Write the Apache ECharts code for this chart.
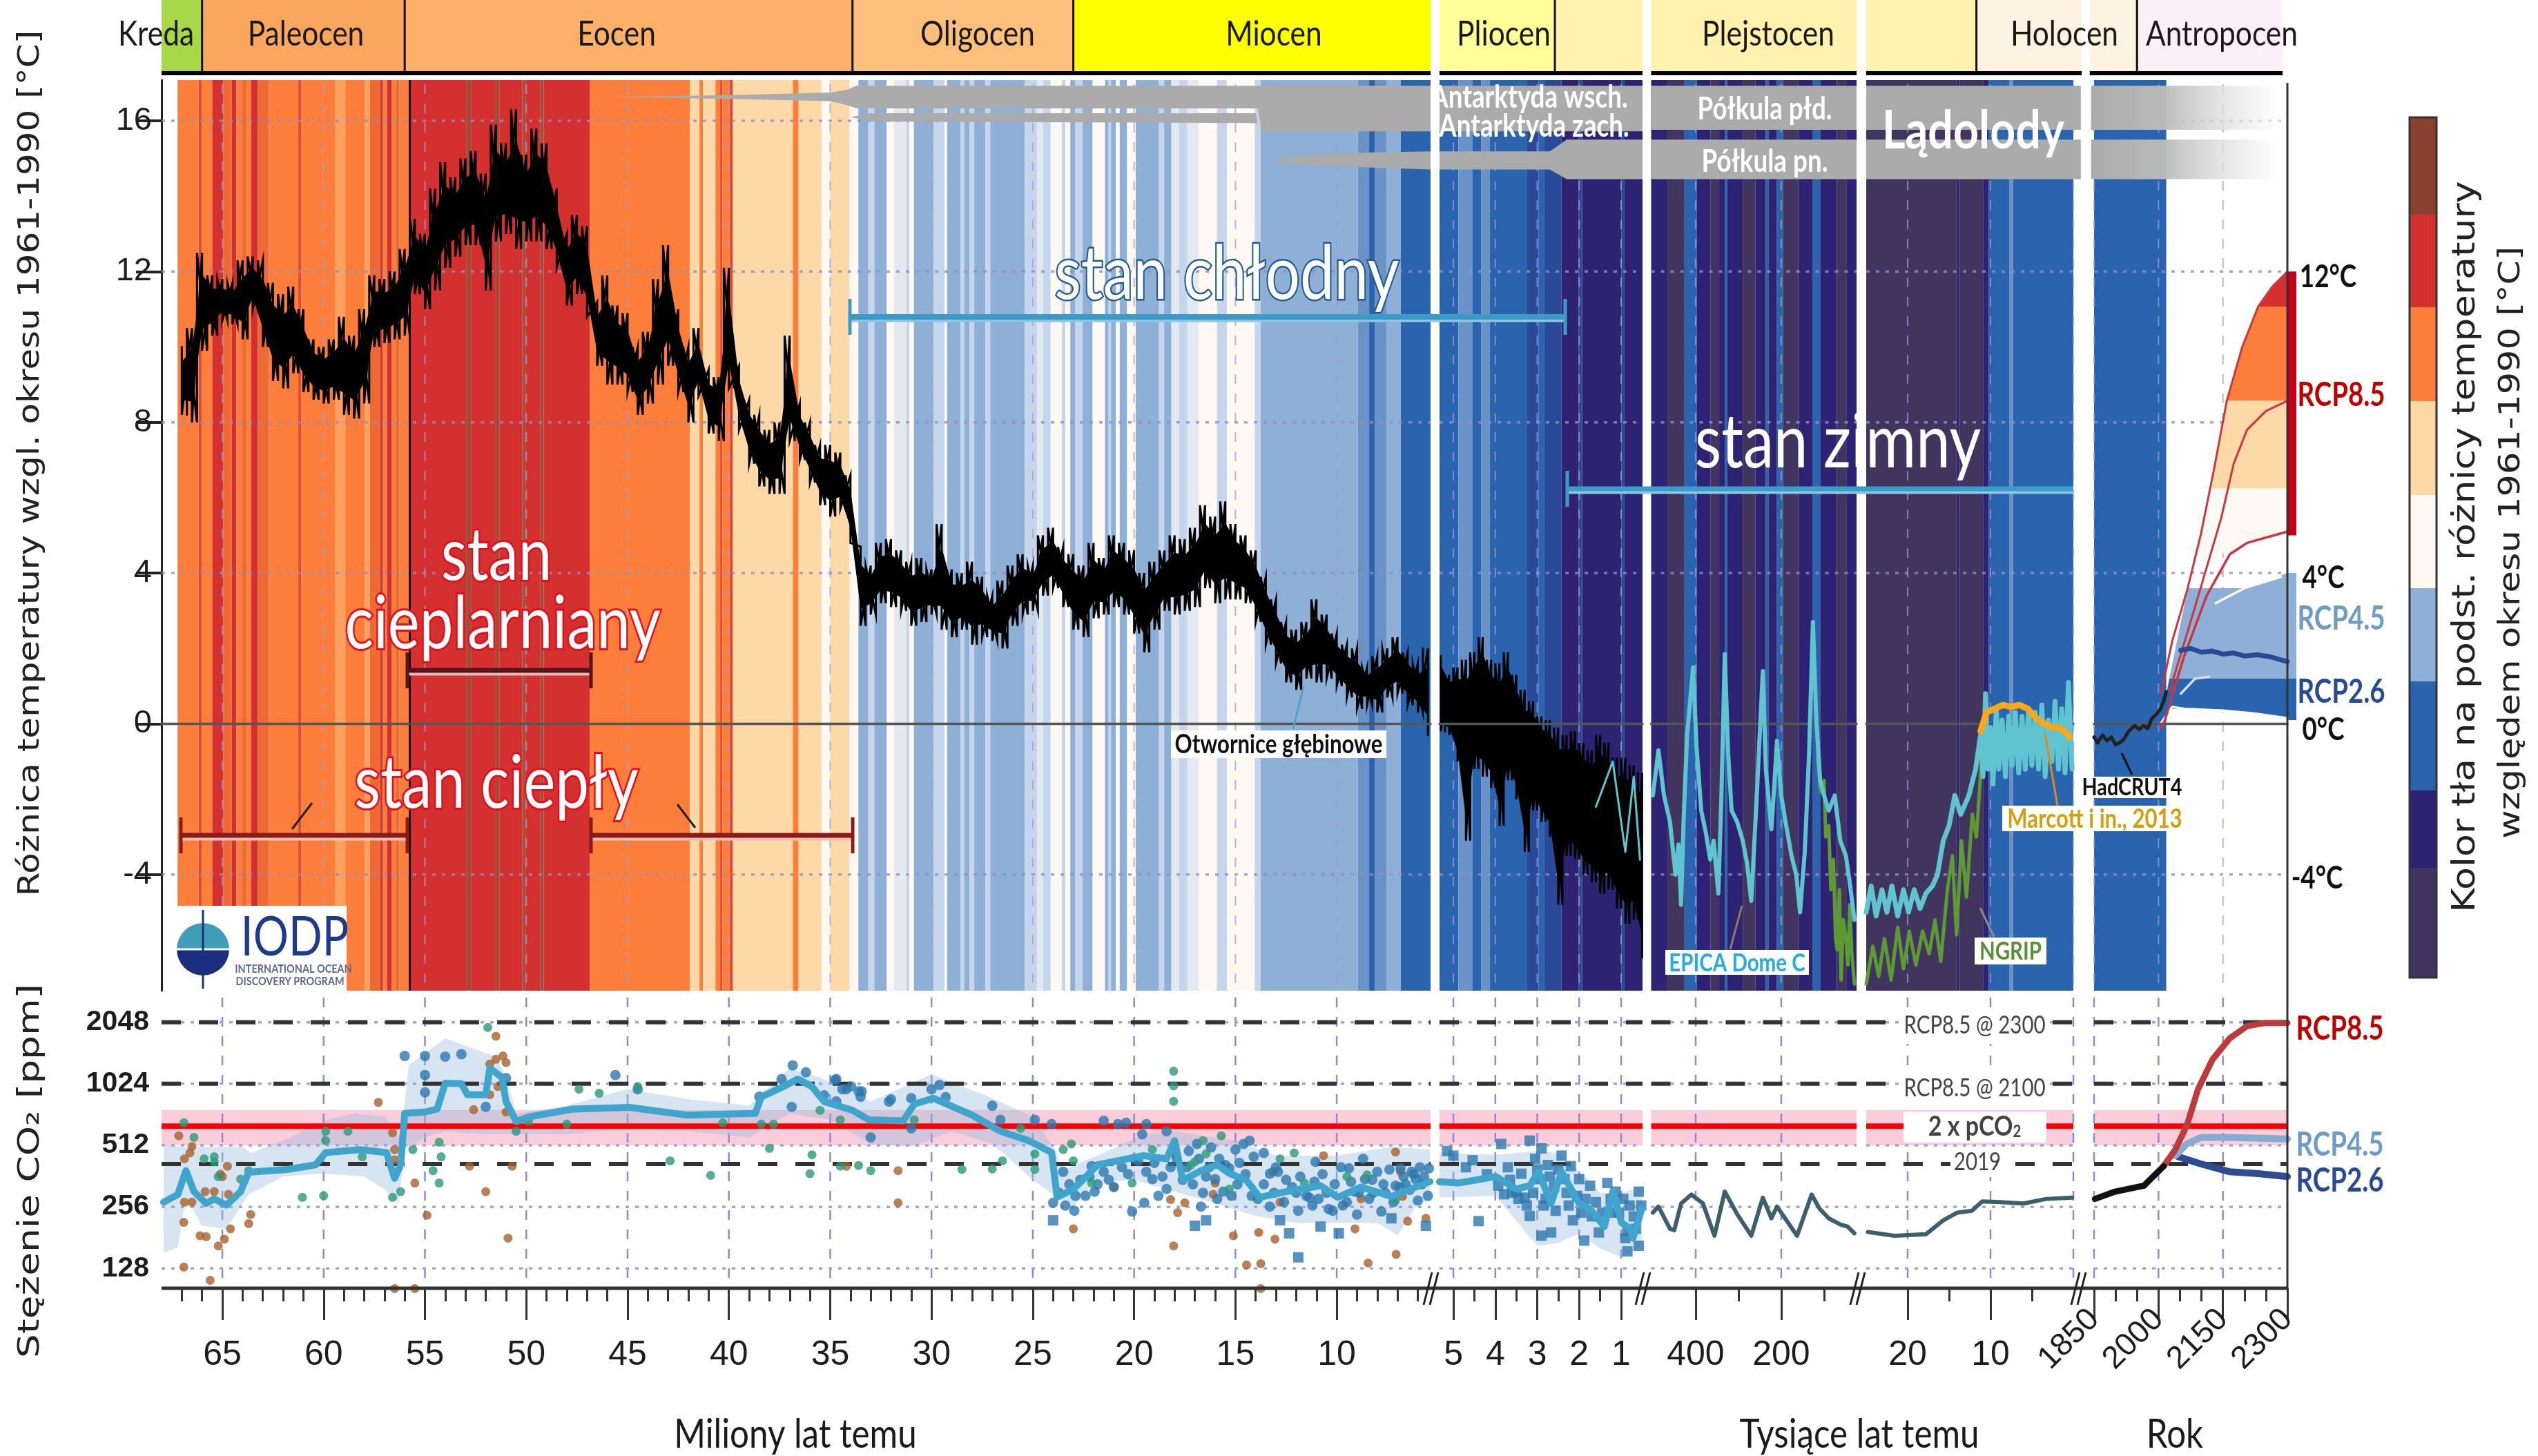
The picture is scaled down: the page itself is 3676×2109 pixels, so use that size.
<!DOCTYPE html>
<html><head><meta charset="utf-8"><style>html,body{margin:0;background:#fff}#c{width:3676px;height:2109px}</style>
<script src="https://cdn.jsdelivr.net/npm/echarts@6/dist/echarts.min.js"></script></head><body><div id="c"></div>
<script>
// ---- colour classes
const S=0,I=1,B=2,L=3,W=4,P=5,O=6,R=7,Br=8,Pl=9,M=10,D=11,Rm=12,VP=13,O2=14,LO=15,LBr=16;
const classColors=['#41345E','#2E2272','#2B64AE','#8FB0D6','#FFF8F3','#FDD9A8','#FD7E3B','#D53030','#A54C38','#C5D6EC','#6A92C6','#2A4A98','#E04A2F','#E3E9F0','#EE6A35','#FDA060','#8B3F2F'];
// ---- background stripes: [start, class] (x in Ma, ka, year)
const stripesA=[[67.21,O],[66.17,Rm],[66.01,O],[65.5,R],[64.96,O2],[64.53,R],[64.31,O],[64.04,O2],[63.8,O],[63.58,R],[63.25,O2],[62.7,O],[61.25,Rm],[61.1,O],[59.42,LO],[58.93,O],[57.96,LO],[57.72,O2],[57.21,R],[57.09,O],[56.87,R],[56.65,O],[56.44,O2],[56.26,O],[55.74,R],[52.97,Br],[52.73,R],[51.51,Br],[51.33,R],[50.2,Br],[50.05,R],[49.32,Br],[49.14,R],[46.87,O],[41.93,P],[41.45,O],[41.28,P],[40.66,O],[40.43,Rm],[40.32,O],[39.95,Rm],[39.8,P],[36.84,O],[36.56,P],[35.43,W],[35.01,P],[34.04,W],[33.61,L],[33.12,Pl],[32.82,L],[32.21,W],[31.85,VP],[31.24,Pl],[31.09,W],[30.87,L],[29.9,Pl],[29.35,W],[29.23,L],[28.56,Pl],[28.38,L],[28.13,Pl],[27.89,L],[27.34,Pl],[27.1,L],[25.4,Pl],[24.79,VP],[24.49,Pl],[24.12,W],[23.57,Pl],[23.39,W],[23.15,L],[22.9,Pl],[22.54,L],[22.05,W],[21.44,L],[21.26,Pl],[21.14,L],[20.9,W],[20.71,L],[20.35,W],[19.92,L],[18.77,Pl],[18.52,L],[18.16,VP],[17.79,Pl],[17.37,VP],[16.82,W],[15.91,Pl],[15.42,W],[14.05,Pl],[13.76,L],[8.96,M],[8.4,B],[8.11,M],[7.55,L],[6.84,B]];
const stripesB=[[5.33,B],[4.88,M],[4.54,B],[4.34,M],[4.13,B],[3.24,D],[2.97,B],[2.83,D],[2.42,I],[2.01,D],[1.93,I],[0.99,D],[0.92,I]];
const stripesC=[[504,I],[466,S],[426,B],[397,I],[365,S],[345,I],[332,B],[326,I],[290,S],[260,I],[236,B],[230,I],[210,B],[196,S],[160,I],[126,B],[109,I],[70,S],[48,I]];
const stripesD=[[25,S],[14.1,I],[13.8,S],[10.9,I],[10.2,B],[7.75,M],[7.27,B]];
const stripesE=[[1850,B]];
const stripeEnds=[5.37,0.49,24,0,2018];
// ---- eras: [start,end,colour]
const erasA=[[68,66,'#A8D84A'],[66,56,'#FBA65E'],[56,33.9,'#FDB06A'],[33.9,23,'#FDBF7C'],[23,5.37,'#FFFF00']];
const erasB=[[5.33,2.58,'#FFFF99'],[2.58,0.49,'#FFF2AE']];
const erasC=[[504,24,'#FFF2AE']];
const erasD=[[25,11.7,'#FFF2AE'],[11.7,-1,'#FEF2E0']];
const erasE=[[1840,1950,'#FEF2E0'],[1950,2289,'#FDEFF8']];
const eraSeps=[[66,56,33.9,23],[2.58],[],[11.7],[1950]];
// ---- benthic temperature envelope
const tempAgesA=[67,66.5,66,65.5,65,64.5,64,63.5,63,62.5,62,61.5,61,60.5,60,59.5,59,58.5,58,57.5,57,56.5,56,55.5,55,54.5,54,53.5,53,52.5,52,51.5,51,50.5,50,49.5,49,48.5,48,47.5,47,46.5,46,45.5,45,44.5,44,43.5,43,42.5,42,41.5,41,40.5,40,39.5,39,38.5,38,37.5,37,36.5,36,35.5,35,34.5,34,33.5,33,32.5,32,31.5,31,30.5,30,29.5,29,28.5,28,27.5,27,26.5,26,25.5,25,24.5,24,23.5,23,22.5,22,21.5,21,20.5,20,19.5,19,18.5,18,17.5,17,16.5,16,15.5,15,14.5,14,13.5,13,12.5,12,11.5,11,10.5,10,9.5,9,8.5,8,7.5,7,6.5,6,5.5];
const tempHiA=[10,10.5,12.5,11.9,11.8,11.7,12.3,12.4,12.3,11.7,11.4,11.6,11,10.2,10,10.2,10.8,10.3,11,11.9,11.8,12,12.6,13.4,13,14.2,14.9,14.5,15,15.2,14.6,15.9,15.4,16.3,15.1,15.8,15.4,14.2,13,13.5,13.2,11.2,11.9,11.1,10.9,10,10.4,11.8,12.7,11,10,10.5,9.4,9.2,12.1,9.5,8.6,8.2,7.8,8,10.3,8.5,8,7.4,7.4,7.2,6.6,4.7,4.2,4.8,4.9,4.6,4.3,4.4,4.1,5.3,4.1,4,4.3,3.9,3.4,3.8,4.2,4.5,4.2,5,5.2,4.7,4.5,4.2,4.8,4.4,5,4.8,4.6,4,4.3,4.6,5,4.9,5.2,5.8,5.5,5.9,5.3,5,4.6,3.9,3.3,2.7,2.5,2.7,3.3,2.9,2.4,2.1,2,1.5,1.8,2,2.3,1.9,1.6,2];
const tempLoA=[8.2,8,9.9,10.3,10.7,10.6,10.2,11,10,9.1,8.9,9.3,8.8,8.6,8.5,8.6,8.2,8.1,8.5,10,10.1,10.2,10.3,11.4,11,11.5,12.1,12.4,12.7,12.7,11.5,12.8,13,12.6,12.8,12.8,12.6,12.1,11.1,11.4,10.8,9.5,9,9,8.8,8.2,8.5,9,9.5,8.8,8,8.7,7.7,7.5,8.9,7.8,6.9,6.3,6.1,6.1,7.5,7,6.4,5.8,5.5,5.7,4.8,2.6,2.9,3.2,3.1,3,2.6,2.7,2.9,2.5,2.3,2.5,2.1,2.3,2.2,2,2.6,2.9,3,3.4,3.6,3.1,2.5,2.3,2.8,2.9,3.1,2.9,2.4,1.9,2.5,3,2.9,3,3.1,3.6,3.2,3.3,3.3,3.2,2.7,2.1,1.6,1.1,0.9,1.2,1.1,1.2,1,0.7,0.4,0.5,0.3,0.7,0.8,0.5,0.3,-0.3];
const tempAgesB=[5.3,5.1,4.9,4.7,4.5,4.3,4.1,3.9,3.7,3.5,3.3,3.1,2.9,2.7,2.5,2.3,2.1,1.9,1.7,1.5,1.3,1.1,0.9,0.7,0.5];
const tempHiB=[1.8,1.3,1.5,1.7,1.9,2.3,1.7,1.6,1.9,1.3,0.9,0.6,0.2,0.1,-0.1,-0.3,-0.2,-0.5,-0.7,-0.3,-0.5,-0.9,-0.9,-1.1,-1.3];
const tempLoB=[-0.2,-0.3,-1,-3.1,-1.2,-1.4,-1.7,-2.7,-1.5,-2,-3.4,-2.3,-2.6,-3,-4.8,-3.5,-3.6,-4,-4.2,-4.5,-4.4,-4.9,-5.3,-5.2,-6.2];
// ---- ice cores
const epicaB=[[1.6,-2.2],[1.2,-1],[0.9,-3.4],[0.7,-1.4],[0.55,-3.6]];
const epicaC=[[500,-1.9],[487,-0.7],[474,-1.9],[460,-2.6],[447,-4],[440,-3.2],[434,-4.8],[428,-2.5],[420,-0.3],[406,1.5],[398,-0.6],[387,-2.3],[376,-2.9],[366,-3.6],[358,-3.1],[347,-4.5],[340,-2],[332,1.85],[324,-0.8],[316,-2.3],[303,-2.6],[290,-3.1],[280,-3.7],[270,-4.7],[258,-2.1],[243,1.4],[236,-1.2],[223,-2.8],[216,-1.6],[210,-0.45],[200,-1.9],[190,-2.6],[176,-3.5],[165,-4],[156,-5],[145,-3.4],[135,-0.8],[126,2.7],[118,0.1],[109,-1.5],[100,-1.9],[89,-2.3],[75,-1.9],[62,-3.1],[49,-3.5],[40,-4.2],[29,-5.2]];
const epicaD=[[25,-5],[24.4,-4.3],[23.8,-5.1],[23.1,-4.4],[22.5,-5],[21.9,-4.3],[21.2,-5.1],[20.5,-4.4],[19.9,-5],[19.2,-4.4],[18.5,-4.9],[17.8,-4.5],[17,-4.3],[16.4,-4],[15.7,-3.1],[15,-2.7],[14.3,-1.9],[13.6,-2.4],[12.6,-1.9],[11.8,-1.2],[11.2,-0.3],[10.9,-1.4],[10.6,0.8],[10.3,-1.2],[10,-0.1],[9.7,-1.6],[9.3,0.4],[9,-1.2],[8.6,0.1],[8.2,-1.4],[7.8,0.2],[7.4,-1.1],[7,0.3],[6.6,-1.3],[6.2,0.2],[5.8,-1.2],[5.4,0.4],[5,-1.1],[4.6,0.3],[4.2,-1.2],[3.8,0.5],[3.4,-1.4],[3,0.1],[2.6,-1],[2.2,0.6],[1.8,-1.2],[1.4,0.4],[1,-1.3],[0.6,1.1],[0.15,-1.2]];
const ngripC=[[115,-0.9],[108,-1.8],[100,-1.5],[96,-3],[89,-2.7],[84,-4.4],[78,-3.6],[73,-5.7],[69,-6],[64,-4.4],[60,-6.8],[55,-5.2],[49,-5.7],[44,-6.4],[40,-4.8],[35,-6.1],[29,-6.9]];
const ngripD=[[25,-6.9],[24.2,-5.9],[23.5,-6.7],[22.8,-5.7],[22,-6.8],[21.2,-5.4],[20.5,-6.5],[19.8,-5.5],[19,-6.4],[18.2,-5.5],[17.4,-6.1],[16.7,-5.2],[16,-6.3],[15.2,-4.4],[14.6,-3.5],[14.1,-5.6],[13.5,-3.1],[12.9,-4.6],[12.2,-2.4],[11.7,-3],[11.1,-1],[10.6,-0.6]];
const marcottD=[[11.2,-0.2],[10.5,0.3],[9.5,0.4],[8.5,0.5],[7.5,0.45],[6.5,0.5],[5.5,0.4],[4.5,0.15],[3.5,0],[2.5,-0.1],[1.6,-0.1],[0.4,-0.35]];
const hadcrut=[[1850,-0.35],[1858,-0.5],[1870,-0.3],[1880,-0.45],[1890,-0.35],[1900,-0.55],[1910,-0.5],[1920,-0.4],[1930,-0.2],[1945,-0.05],[1955,-0.15],[1965,-0.05],[1975,-0.12],[1985,0.15],[1995,0.25],[2005,0.4],[2012,0.6],[2018,0.85]];
// ---- projected temperature fans
const fanRed=[[2232,11.07],[2265,11.6],[2300,12],[2300,11.07]];
const fanOrange=[[2159,8.57],[2195,10],[2232,11.07],[2300,11.07],[2300,8.57]];
const fanPeach=[[2124,6.25],[2130,6.8],[2159,8.57],[2300,8.57],[2300,6.25]];
const fanWhite=[[2090,4.6],[2105,5.5],[2124,6.25],[2300,6.25],[2300,5.1],[2206,4.8],[2166,4.5]];
const fanLight=[[2025,1.2],[2068,3.6],[2206,3.6],[2300,4],[2300,1.2]];
const fanBlue=[[2006,0],[2025,1.2],[2300,1.2],[2300,0.15],[2150,0.35],[2032,0.4]];
const rcp85Upper=[[2006,0.8],[2032,2.2],[2068,3.6],[2099,5.05],[2130,6.8],[2159,8.57],[2195,10],[2232,11.07],[2265,11.6],[2300,12]];
const rcp85Mid=[[2026,0.87],[2085,3.1],[2146,5.46],[2175,6.9],[2206,7.8],[2250,8.3],[2300,8.57]];
const rcp85Lower=[[2006,-0.1],[2015,0.1],[2059,1.77],[2112,3.4],[2166,4.5],[2206,4.8],[2300,5.1]];
const rcp45Upper=[[2133,3.2],[2200,3.6],[2285,3.9]];
const rcp26Mid=[[2052,1.95],[2075,2],[2100,1.9],[2125,1.93],[2150,1.85],[2175,1.88],[2200,1.8],[2230,1.83],[2260,1.78],[2300,1.65]];
const rcp26Upper=[[2052,0.8],[2085,1.2],[2118,1.25]];
const rcp26Lower=[[2006,0.02],[2032,0.45],[2060,0.4],[2150,0.35],[2220,0.28],[2300,0.15]];
const sideBars=[[12,5,'#C4001A'],[4,1.2,'#8FB0D6'],[1.2,0.1,'#2B64AE']];
// ---- ice sheets: polygons [x,T]
const iceA=[[[45.6,16.63],[40,16.68],[35,16.75],[34.2,16.82],[33.7,16.93],[5.37,16.93],[5.37,15.72],[13.7,15.72],[13.9,16.33],[33.7,16.33],[34.2,16.42],[35,16.52],[40,16.58]],
 [[34,16.1],[33,16.2],[14,16.2],[13.9,15.94],[33,15.98]],
 [[13.3,14.96],[12,15.07],[9,15.15],[5.37,15.19],[5.37,14.71],[9,14.77],[12,14.85]]];
const iceB=[[[5.33,16.93],[0.49,16.93],[0.49,15.72],[5.33,15.72]],[[5.33,15.19],[2.7,15.19],[2.3,15.5],[0.49,15.5],[0.49,14.45],[2.3,14.45],[2.7,14.71],[5.33,14.71]]];
const iceC=[[[504,16.93],[24,16.93],[24,15.76],[504,15.76]],[[504,15.5],[24,15.5],[24,14.45],[504,14.45]]];
const iceD=[[[25,16.93],[-0.9,16.93],[-0.9,15.76],[25,15.76]],[[25,15.5],[-0.9,15.5],[-0.9,14.45],[25,14.45]]];
const iceE=[[1843,2285,16.93,15.76],[1843,2285,15.5,14.45]];
// ---- CO2
const co2LineA=[[67.9,270],[67.2,294],[66.8,385],[66.4,304],[65.8,266],[65.4,280],[64.8,261],[64.1,304],[63.7,378],[61.8,390],[60.4,411],[59.9,472],[58.2,488],[56.9,472],[56.5,353],[56.2,411],[56,733],[55,745],[54.4,770],[54,1030],[53.2,1024],[52.9,905],[52,905],[51.8,1220],[51.2,1100],[51,838],[50.5,671],[49.8,708],[47.7,770],[44.9,785],[42.1,720],[38.7,733],[38.4,883],[37.3,993],[36.6,1080],[35.9,993],[35.3,838],[33.9,760],[33.1,683],[31.4,675],[30.85,815],[29.9,870],[28,720],[26.6,600],[25.2,540],[24.07,472],[23.8,285],[22.94,316],[21.8,411],[19.55,456],[18.4,440],[18,540],[17.6,345],[16.7,385],[15.9,411],[15.3,373],[14.45,345],[13.8,285],[12.5,304],[10.8,325],[9.95,285],[8.8,320],[7.3,288],[5.4,340]];
const co2HiA=[[67.9,520],[67,503],[65.5,503],[64,503],[63.6,470],[62,540],[60,675],[58.5,733],[57,708],[56.2,560],[55.8,1264],[54,1710],[52,1446],[51.5,1400],[51,1100],[50.5,733],[48,800],[45,963],[42,860],[39,800],[37,1220],[35.5,1100],[33,838],[30,1141],[27,870],[25,708],[24,503],[23.5,390],[21.5,470],[19.5,580],[18,600],[15,540],[13,456],[10,456],[7.3,503],[5.4,488]];
const co2LoA=[[67.9,153],[67.2,162],[66.8,284],[66,207],[64.8,200],[64,266],[63.7,294],[62,360],[60,373],[58,360],[57,313],[56.3,266],[56,488],[55,560],[54,600],[52,580],[51,580],[50.5,580],[48,580],[45,620],[42,600],[39,560],[37,733],[35,683],[33,520],[31,503],[29,600],[27,520],[25,347],[24,294],[23,257],[22,335],[20,347],[18,304],[16,266],[14,231],[12,214],[10,214],[8,214],[7,186],[6,266],[5.4,275]];
const co2LineB=[[5.33,340],[4.88,335],[3.99,360],[3.5,313],[3.18,325],[2.97,380],[2.67,266],[2.42,380],[2,266],[1.74,250],[1.4,205],[1.2,304],[0.99,214],[0.78,200],[0.72,180],[0.51,250]];
const co2HiB=[[5.33,470],[4,460],[3,480],[2.5,470],[2,385],[1.5,300],[1,300],[0.5,320]];
const co2LoB=[[5.33,284],[4,290],[3,165],[2.5,170],[2,190],[1.5,160],[1,145],[0.5,165]];
const co2C=[[500,240],[487,257],[460,200],[450,197],[434,266],[410,294],[383,266],[356,185],[332,304],[303,236],[270,185],[243,284],[223,225],[210,257],[163,185],[129,294],[110,250],[89,225],[62,210],[45,205],[29,190]];
const co2D=[[24.8,193],[21.6,185],[17.8,188],[15.7,220],[14,240],[12.25,245],[11,272],[8.8,270],[6,266],[3.25,280],[0.15,284]];
const co2Hist=[[1852,280],[1899,304],[1966,325],[2012,405]];
const co2R85=[[2012,405],[2039,488],[2066,640],[2092,963],[2126,1350],[2166,1710],[2206,1960],[2246,2030],[2300,2030]];
const co2R45=[[2039,456],[2066,520],[2099,560],[2166,560],[2300,550]];
const co2R26=[[2046,450],[2099,415],[2166,380],[2232,372],[2300,360]];
const greenA=[[66.9,660],[66.4,560],[65.9,440],[65.4,450],[65.4,425],[65.2,360],[64.1,350],[63.7,385],[61.05,285],[60,290],[59.9,600],[59.9,540],[58.8,600],[58.1,450],[56.6,285],[56.2,304],[55.6,488],[54.6,385],[54.3,530],[54.2,450],[54.3,335],[51.9,1930],[50.5,600],[49.9,670],[48,650],[47.4,963],[46.4,920],[44.5,993],[42.9,430],[40.9,365],[40.3,660],[38.4,650],[37.8,650],[38,495],[36,372],[35.9,460],[35.5,760],[34.5,683],[34.5,405],[33.6,408],[33,385],[30.85,683],[28.5,390],[27,392],[26.5,430],[25.6,620],[24.9,465],[24.9,390],[23.5,488],[23.1,520],[23,430],[22.1,335],[20.1,335],[18.05,1180],[18.05,1000],[18.05,840],[19.1,488],[17.2,410],[16.6,540],[17,425],[16.45,465],[15.7,570],[15.3,313],[12.8,440],[12.1,470],[11.6,335],[9.5,360],[8.5,367],[7.1,275]];
const brownA=[[67.15,570],[66.9,215],[66.9,130],[66.87,440],[66.87,270],[66.5,270],[66.6,470],[66.5,505],[66.1,185],[65.8,183],[65.85,304],[65.6,112],[65.4,304],[65.2,165],[65.1,370],[65,360],[64.9,178],[64.75,405],[64.6,200],[64.7,295],[63.7,212],[63.6,235],[57.3,830],[56.6,590],[56.5,488],[56.5,435],[56.5,102],[55.5,335],[55.5,102],[54.9,233],[52.8,405],[52.6,765],[52,304],[51.8,1280],[51.5,1750],[51.5,1350],[51.15,1400],[51,1300],[51.4,993],[51.8,905],[51,745],[50.7,405],[50.9,180],[34.2,405],[31.65,385],[31.65,268],[23,200],[21,320],[18.2,278],[17.85,240],[17.5,268],[18.05,165],[16.1,295],[16,335],[15.1,185],[13.85,192],[14.45,133],[13.75,135],[13.75,102],[13.05,178],[13.15,380],[12.8,270],[10.65,456],[9.1,200],[8.45,136],[7.1,475],[7.07,150],[6.85,380],[6.75,288],[6.5,218],[5.6,225],[8.8,280]];
const blueA=[[56,1400],[55,1400],[55,1130],[55,930],[54,1390],[53.2,1430],[52,790],[51,1090],[45.6,1130],[44.5,963],[36.85,1260],[36.2,1165],[37.4,1080],[38.5,885],[36.9,790],[34.7,1080],[34.4,963],[34.2,963],[33.6,940],[33.5,885],[35.3,900],[33,560],[32.1,838],[34.75,1070],[33.96,993],[33.45,940],[34.7,840],[32,860],[31,870],[30,963],[29.6,1010],[29.3,880],[31,620],[27,800],[26.6,683],[24.07,650],[24.9,683],[21.5,675],[20.8,650],[20.4,660],[19.4,650],[19.6,580],[18.4,600],[24,220],[24,268],[22.95,245],[23.5,380],[22.66,347],[21.95,304],[21.5,380],[21.25,347],[22.1,405],[20.1,243],[19.5,268],[19.4,380],[18.6,360],[18.4,313],[17.6,347],[17,207],[16.45,220],[16.7,257],[15.6,304],[14.6,520],[14.3,540],[15,488],[16.9,520],[16.45,360],[15.3,395],[13.6,470],[13.3,257],[12.8,220],[12.35,190],[11.9,145],[11.9,245],[12.5,347],[11.05,425],[10.8,205],[9.9,190],[10.2,245],[9.4,395],[8.7,440],[7.8,243],[7.3,225],[6,275],[5.6,207],[5.45,395],[6.85,395],[8.25,347],[6.3,380],[11.35,284],[13.3,372],[9.1,304],[7.1,325],[23.2,330],[22.4,290],[21,320],[20,440],[19,420],[18,470],[17.3,480],[16.2,500],[15.8,440],[14.9,330],[14.2,290],[13,400],[12,300],[11.2,260],[10.5,300],[9.7,260],[9,235],[8.4,280],[7.6,300],[6.6,330],[6.1,350],[5.8,330],[23.7,300],[23.4,260],[22.9,290],[22.2,360],[21.8,330],[20.6,400],[20.3,370],[19.8,430],[19.1,350],[18.8,290],[18.2,400],[17.9,440],[17.4,400],[17.1,330],[16.8,440],[16.6,300],[16.3,400],[16,350],[15.9,280],[15.5,410],[15.2,290],[14.8,420],[14.5,370],[14.1,450],[13.9,280],[13.6,330],[13.1,300],[12.9,380],[12.6,270],[12.2,320],[11.8,360],[11.5,290],[11.1,340],[10.9,280],[10.7,370],[10.4,250],[10.1,330],[9.8,400],[9.5,270],[9.3,340],[8.9,300],[8.6,350],[8.2,300],[8,380],[7.7,330],[7.4,390],[7.2,270],[6.9,320],[6.7,360],[6.4,310],[6.2,370],[5.9,400],[5.7,360],[5.5,290]];
const blueB=[[5.15,480],[5,456],[4.54,433],[3.86,520],[4.4,218],[3.93,325],[3.79,295],[3.5,304],[3.18,540],[2.9,495],[3.18,231],[2.9,185],[2.67,192],[3,390],[2.42,456],[2.2,405],[2.56,245],[2.15,220],[1.88,175],[1.53,192],[1.33,335],[1.74,325],[1.13,304],[0.85,155],[0.58,165],[0.58,304],[0.85,195],[3.38,372],[3.65,347],[2.7,360],[3.3,284],[4.7,400],[4.2,370],[3.7,400],[3.1,300],[2.8,280],[2.3,300],[2,350],[1.6,270],[1.2,240],[0.95,280],[0.7,230],[3.6,300],[3.45,280],[3.25,260],[3.05,440],[2.95,350],[2.85,260],[2.75,410],[2.6,320],[2.5,390],[2.35,350],[2.25,260],[2.05,290],[1.95,240],[1.85,280],[1.7,230],[1.45,240],[1.25,280],[1.05,240],[0.9,180],[0.8,260],[0.65,200],[0.52,260]];
const pco2Band=[512,763], pco2Line=635, dashedLevels=[2048,1024,415], dottedLevels=[2048,1024,512,256,128];
// ---- axis ticks
const tempTicks=[-4,0,4,8,12,16];
const co2Ticks=[128,256,512,1024,2048];
const majorTicks=[[65,60,55,50,45,40,35,30,25,20,15,10],[5,4,3,2,1],[400,200],[20,10],[1850,2000,2150,2300]];
const minorTicks=[[67,66,64,63,62,61,59,58,57,56,54,53,52,51,49,48,47,46,44,43,42,41,39,38,37,36,34,33,32,31,29,28,27,26,24,23,22,21,19,18,17,16,14,13,12,11,9,8,7,6],[4.5,3.5,2.5,1.5],[300,100],[15,5],[1900,1950,2050,2100,2200,2250]];
const extraGrid=[[],[],[],[0],[]];
const legendClasses=[LBr,R,O,P,W,L,B,I,S];
const legendSpans=[141,134,136,136,135,135,158,112,159];

// ---- layout
const segs=[{min:68,max:5.37,left:234,width:1838,inv:true},{min:5.33,max:0.49,left:2085,width:294,inv:true},{min:504,max:24,left:2391.5,width:297.5,inv:true},{min:25,max:0,left:2703,width:300,inv:true},{min:1850,max:2300,left:3033,width:280,inv:false}];
const panels=[{top:0,height:104},{top:116,height:1319},{top:1445,height:421}];
const NAR='Lato,sans-serif', ARI='"Liberation Sans",sans-serif', DJV='"DejaVu Sans",sans-serif';
const fmt=v=>String(v);
const grids=[],xAxes=[],yAxes=[],series=[];
panels.forEach((p,pi)=>segs.forEach((s,si)=>{
  grids.push({left:s.left,width:s.width,top:p.top,height:p.height,containLabel:false});
  const gi=pi*5+si;
  const x={gridIndex:gi,type:'value',min:Math.min(s.min,s.max),max:Math.max(s.min,s.max),inverse:s.inv,show:false,splitLine:{show:false}};
  if(pi==2){x.show=true;x.axisLine={show:false};x.splitLine={show:false};
    x.axisTick={show:true,customValues:majorTicks[si],length:46,lineStyle:{color:'#333',width:3}};
    x.axisLabel={show:true,customValues:majorTicks[si],formatter:fmt,margin:si==4?38:72,rotate:si==4?45:0,fontFamily:ARI,fontSize:si==4?46:50,color:'#1d1d1d',hideOverlap:false,showMinLabel:true,showMaxLabel:true};}
  xAxes.push(x);
  const y={gridIndex:gi,show:false,splitLine:{show:false}};
  if(pi==0){y.type='value';y.min=0;y.max=1;}
  if(pi==1){y.type='value';y.min=-7.08;y.max=17.08;
    if(si==0){y.show=true;y.axisLine={show:true,lineStyle:{color:'#222',width:3}};y.axisTick={show:true,customValues:tempTicks,length:37,lineStyle:{color:'#222',width:4}};y.axisLabel={customValues:tempTicks,formatter:fmt,margin:14,fontFamily:ARI,fontSize:47,color:'#1d1d1d'};}
  }
  if(pi==2){y.type='log';y.logBase=2;y.min=102.4;y.max=2703;
    if(si==0){y.show=true;y.axisLine={show:false};y.axisTick={show:false};y.axisLabel={customValues:co2Ticks,formatter:fmt,margin:18,fontFamily:ARI,fontSize:41,fontWeight:'bold',color:'#1d1d1d'};}
  }
  yAxes.push(y);
}));
segs.forEach((s,si)=>{xAxes.push({gridIndex:10+si,type:'value',min:Math.min(s.min,s.max),max:Math.max(s.min,s.max),inverse:s.inv,position:'bottom',axisLine:{show:false},axisLabel:{show:false},splitLine:{show:false},axisTick:{show:true,customValues:minorTicks[si],length:19,lineStyle:{color:'#333',width:3}}});});
// legend grid
grids.push({left:3490,width:39,top:170,height:1246});
const lg=grids.length-1;
xAxes.push({gridIndex:lg,type:'category',data:['k'],show:false});
yAxes.push({gridIndex:lg,type:'value',min:0,max:legendSpans.reduce((a,b)=>a+b,0),inverse:true,show:false,splitLine:{show:false}});
legendSpans.forEach((v,i)=>series.push({type:'bar',xAxisIndex:xAxes.length-1,yAxisIndex:yAxes.length-1,stack:'lg',barWidth:'100%',data:[v],itemStyle:{color:classColors[legendClasses[i]]},silent:true,z:2}));

function custom(pi,si,z,fn,clip){series.push({type:'custom',xAxisIndex:pi*5+si,yAxisIndex:pi*5+si,data:[[segs[si].min,pi==2?128:0]],z,silent:true,clip:!!clip,renderItem:(p,api)=>({type:'group',children:fn(api)})});}
function line(pi,si,data,color,width,z,extra){series.push(Object.assign({type:'line',xAxisIndex:pi*5+si,yAxisIndex:pi*5+si,data,showSymbol:false,symbol:'none',silent:true,z,clip:false,animation:false,lineStyle:Object.assign({color,width,cap:'round',join:'round'},extra||{})}));}
const rectOf=(api,x0,x1,y0,y1,style)=>{const a=api.coord([x0,y0]),b=api.coord([x1,y1]);return {type:'rect',shape:{x:Math.min(a[0],b[0]),y:Math.min(a[1],b[1]),width:Math.abs(a[0]-b[0]),height:Math.abs(a[1]-b[1])},style};};
const polyOf=(api,pts,fill)=>({type:'polygon',shape:{points:pts.map(p=>api.coord(p))},style:{fill}});

// --- top band
[erasA,erasB,erasC,erasD,erasE].forEach((er,si)=>{
  custom(0,si,2,api=>{
    const out=er.map(e=>rectOf(api,e[0],e[1],0,1,{fill:e[2]}));
    eraSeps[si].forEach(v=>{const c=api.coord([v,0]);out.push({type:'line',shape:{x1:c[0],y1:0,x2:c[0],y2:104},style:{stroke:'#111',lineWidth:3}});});
    const l=api.coord([er[0][0],0])[0],r=api.coord([er[er.length-1][1],0])[0];
    out.push({type:'line',shape:{x1:l,y1:106,x2:r,y2:106},style:{stroke:'#000',lineWidth:6}});
    return out;
  });
});
// --- stripes
[stripesA,stripesB,stripesC,stripesD,stripesE].forEach((st,si)=>{
  custom(1,si,1,api=>st.map((e,i)=>rectOf(api,e[0],i+1<st.length?st[i+1][0]:stripeEnds[si],-7.08,17.08,{fill:classColors[e[1]]})),false);
});
// --- grid lines + zero line per segment
segs.forEach((s,si)=>{
  const vals=majorTicks[si].concat(extraGrid[si]);
  custom(1,si,2,api=>{
    const out=[];
    vals.forEach(v=>{ if(si==4&&v==2300)return; const c=api.coord([v,0]);out.push({type:'line',shape:{x1:c[0],y1:122,x2:c[0],y2:1435},style:{stroke:'#9c9cd8',lineWidth:2,lineDash:[14,14],opacity:.75}});});
    tempTicks.forEach(t=>{ if(t==0)return; const a=api.coord([s.min,t]),b=api.coord([s.max,t]);out.push({type:'line',shape:{x1:a[0],y1:a[1],x2:b[0],y2:b[1]},style:{stroke:'#8f8fc8',lineWidth:3.5,lineDash:[5,9],opacity:.8}});});
    return out;
  });
  custom(2,si,2,api=>{
    const out=[];
    vals.forEach(v=>{ if(si==4&&v==2300)return; const c=api.coord([v,128]);out.push({type:'line',shape:{x1:c[0],y1:1445,x2:c[0],y2:1866},style:{stroke:'#8c8cd2',lineWidth:2.5,lineDash:[14,14]}});});
    return out;
  });
  line(1,si,[[s.min,0],[s.max,0]],'#555',3.5,6);
  custom(2,si,1,api=>[rectOf(api,s.min,s.max,pco2Band[0],pco2Band[1],{fill:'#F9CDD9'})]);
  line(2,si,[[s.min,pco2Line],[s.max,pco2Line]],'#FF0000',8,2,{cap:'butt'});
  dottedLevels.forEach(v=>line(2,si,[[s.min,v],[s.max,v]],'#a3a3d8',3.5,2,{type:[5,9],cap:'butt'}));
  dashedLevels.forEach(v=>line(2,si,[[s.min,v],[s.max,v]],'#333',6,3,{type:[28,26],cap:'butt'}));
});
// --- ice sheets
[iceA,iceB,iceC,iceD].forEach((ic,si)=>custom(1,si,3,api=>ic.map(pg=>polyOf(api,pg,'#ABABAB'))));
custom(1,4,3,api=>iceE.map(r=>rectOf(api,r[0],r[1],r[2],r[3],{fill:new echarts.graphic.LinearGradient(0,0,1,0,[{offset:0,color:'#ABABAB'},{offset:.35,color:'#B8B8B8'},{offset:1,color:'rgba(255,255,255,0.6)'}])})));
// --- PETM line
custom(1,0,5,api=>{const c=api.coord([55.75,0]);return [{type:'line',shape:{x1:c[0],y1:116,x2:c[0],y2:1435},style:{stroke:'#111',lineWidth:3}}];});
// --- black temperature curve
function blackCurve(si,ages,hi,lo,k){
  custom(1,si,5,api=>{
    const up=ages.map((a,i)=>[a,hi[i]-k*(hi[i]-lo[i])]), dn=ages.map((a,i)=>[a,lo[i]+k*(hi[i]-lo[i])]).reverse();
    return [polyOf(api,up.concat(dn),'#000')];
  });
  const zig=[],zag=[];
  ages.forEach((a,i)=>{zig.push([a,hi[i]],[a,lo[i]]); if(i+1<ages.length){const m=(a+ages[i+1])/2;zag.push([m,lo[i]],[m,hi[i+1]]);}});
  line(1,si,zig,'#000',3,5,{join:'miter'});
  line(1,si,zag,'#000',3,5,{join:'miter'});
}
blackCurve(0,tempAgesA,tempHiA,tempLoA,0.22);
blackCurve(1,tempAgesB,tempHiB,tempLoB,0.12);
// --- ice core curves
line(1,2,ngripC,'#5E9A33',5,6);line(1,3,ngripD,'#5E9A33',5,6);
line(1,2,epicaC,'#5FC4CF',6,7);line(1,3,epicaD,'#5FC4CF',7,7);
line(1,1,epicaB,'#5FC4CF',3,6);
line(1,3,marcottD,'#F9A81B',9,8);
line(1,4,hadcrut,'#222',5,8);
// --- temperature fans
custom(1,4,3,api=>[[fanLight,classColors[L]],[fanBlue,classColors[B]],[fanWhite,classColors[W]],[fanPeach,classColors[P]],[fanOrange,classColors[O]],[fanRed,classColors[R]]].map(f=>polyOf(api,f[0],f[1])));
custom(1,4,4,api=>sideBars.map(b=>{const a=api.coord([2300,b[0]]),c=api.coord([2300,b[1]]);return {type:'rect',shape:{x:a[0]+1,y:a[1],width:12,height:c[1]-a[1]},style:{fill:b[2]}};}));
line(1,4,rcp85Upper,'#C8383F',3,6);line(1,4,rcp85Mid,'#C8383F',3,6);line(1,4,rcp85Lower,'#C8383F',3.5,6);
line(1,4,rcp45Upper,'#fff',3.5,5);line(1,4,rcp26Upper,'#cfe0f2',3.5,5);line(1,4,rcp26Lower,'#fff',3.5,5);line(1,4,rcp26Mid,'#2A4A98',7,6);
// --- CO2 panel
function envelope(si,hi,lo){custom(2,si,2,api=>[polyOf(api,hi.concat(lo.slice().reverse()),'rgba(150,185,220,0.38)')]);}
envelope(0,co2HiA,co2LoA);envelope(1,co2HiB,co2LoB);
function dots(si,data,color,sym,size){series.push({type:'scatter',xAxisIndex:10+si,yAxisIndex:10+si,data,symbol:sym,symbolSize:size,itemStyle:{color},silent:true,z:4,clip:false,animation:false});}
dots(0,brownA,'#A9622C','circle',13);dots(0,blueA,'#2C78AE',(v)=>v[1]<230?'rect':'circle',15);dots(1,blueB,'#2C78AE','rect',15);dots(0,greenA,'#2A9A78','circle',13);
line(2,0,co2LineA,'#3FA5CC',10,5);line(2,1,co2LineB,'#3FA5CC',10,5);
line(2,2,co2C,'#3D5F6B',6,5);line(2,3,co2D,'#3D5F6B',6,5);
line(2,4,co2R26,'#2E4B94',10,5);line(2,4,co2R45,'#86ADD0',10,5);line(2,4,co2R85,'#BC3B3D',9,6);line(2,4,co2Hist,'#111',9,7);

// ---- overlay annotations
const g=[];
const T=(text,x,y,o)=>{o=o||{};g.push({type:'text',x,y,z:110,rotation:o.rot||0,scaleX:o.rot?1:(o.sx||0.82),scaleY:o.rot?(o.sy||0.85):1,silent:true,style:Object.assign({text,fontFamily:NAR,fontSize:46,fill:'#1a1a1a',align:'center',verticalAlign:'middle'},o)});};
const Box=(x,y,w,h,fill)=>g.push({type:'rect',z:105,silent:true,shape:{x,y,width:w,height:h},style:{fill:fill||'#fff'}});
const Ln=(x1,y1,x2,y2,stroke,lineWidth)=>g.push({type:'line',z:108,silent:true,shape:{x1,y1,x2,y2},style:{stroke,lineWidth,lineCap:'butt'}});
// era labels
[['Kreda',226,50],['Paleocen',443,50],['Eocen',893,50],['Oligocen',1416,50],['Miocen',1845,50],['Pliocen',2178,50],['Plejstocen',2561,50],['Holocen',2990,50],['Antropocen',3218,50]].forEach(e=>T(e[0],e[1],e[2],{fontSize:50,sx:.85}));
// ice labels
[['Antarktyda wsch.',2215,141,46],['Antarktyda zach.',2222,183,46],['Półkula płd.',2556,158,46],['Półkula pn.',2556,234,46]].forEach(e=>T(e[0],e[1],e[2],{fontSize:e[3],fill:'#fff',fontWeight:'bold',sx:.8}));
T('Lądolody',2858,190,{fontSize:76,fill:'#fff',fontWeight:'bold',sx:.85,shadowColor:'#555',shadowBlur:6});
// state annotations
const warm={fill:'#fff',stroke:'#E0101E',lineWidth:6,shadowColor:'rgba(120,0,0,.8)',shadowBlur:10,shadowOffsetY:4,sx:.82};
T('stan',719,806,Object.assign({fontSize:106},warm));T('cieplarniany',728,905,Object.assign({fontSize:106},warm));T('stan ciepły',719,1136,Object.assign({fontSize:106},warm));
const cold={fill:'#fff',stroke:'#235A8C',lineWidth:5,shadowColor:'rgba(10,40,90,.8)',shadowBlur:10,shadowOffsetY:4,sx:.82};
T('stan chłodny',1777,398,Object.assign({fontSize:108},cold));
T('stan zimny',2662,642,{fontSize:108,fill:'#fff',shadowColor:'#4a9fd0',shadowBlur:12,shadowOffsetY:4,sx:.82});
function bar(x1,x2,y,col,cap,capL,capR,glow){Ln(x1,y+5,x2,y+5,glow,5);Ln(x1,y,x2,y,col,cap);if(capL)Ln(x1,y-26,x1,y+26,col,5);if(capR)Ln(x2,y-26,x2,y+26,col,5);}
bar(1231,2267,459,'#3C9BCB',8,true,true,'#8CC5E2');
bar(2270,3003,708,'#3C9BCB',7,true,false,'#8CC5E2');
bar(590,856,971,'#55151A',7,true,true,'#E8B7B7');
bar(262,590,1210,'#8B1A1A',7,true,true,'#EFC0B0');
bar(856,1235,1210,'#8B1A1A',7,true,true,'#EFC0B0');
Ln(452,1163,423,1201,'#222',3);Ln(981,1165,1007,1199,'#222',3);
// source labels
Box(1696,1058,312,40);Ln(1888,995,1873,1056,'#4CA3C9',3);T('Otwornice głębinowe',1852,1079,{fontSize:38,fontWeight:'bold',fill:'#111',sx:.82});
Box(2412,1376,208,36);Ln(2523,1312,2506,1375,'#8a7a6a',3);T('EPICA Dome C',2516,1395,{fontSize:36,fontWeight:'bold',fill:'#29ABE2',sx:.82});
Box(2860,1358,104,39);Ln(2868,1315,2888,1357,'#8a8a8a',3);T('NGRIP',2912,1378,{fontSize:36,fontWeight:'bold',fill:'#5B8F3A',sx:.82});
Box(3009,1125,158,31);Ln(3073,1091,3088,1122,'#111',3);T('HadCRUT4',3088,1141,{fontSize:35,fontWeight:'bold',fill:'#111',sx:.82});
Box(2900,1167,267,37);Ln(2962,1062,2980,1167,'#D98B1F',3);T('Marcott i in., 2013',3034,1187,{fontSize:38,fontWeight:'bold',fill:'#D0A010',sx:.82});
// right side labels
[['12°C',3372,401,'#111'],['4°C',3365,837,'#111'],['0°C',3365,1057,'#111'],['-4°C',3356,1272,'#111']].forEach(e=>T(e[0],e[1],e[2],{fontSize:46,fontWeight:'bold',fill:e[3],sx:.8}));
[['RCP8.5',3391,573,'#C00000'],['RCP4.5',3391,897,'#6E9CC6'],['RCP2.6',3391,1003,'#2B4B90'],['RCP8.5',3389,1491,'#C00000'],['RCP4.5',3389,1659,'#6E9CC6'],['RCP2.6',3389,1711,'#2B4B90']].forEach(e=>T(e[0],e[1],e[2],{fontSize:48,fontWeight:'bold',fill:e[3],sx:.8}));
// CO2 labels
Box(2757,1462,207,50);T('RCP8.5 @ 2300',2860,1485,{fontSize:36,fill:'#444',sx:.82});
Box(2757,1553,207,50);T('RCP8.5 @ 2100',2860,1576,{fontSize:36,fill:'#444',sx:.82});
Box(2757,1610,207,45);
g.push({type:'text',x:2860,y:1632,z:110,scaleX:.85,silent:true,style:{text:'{a|2 x pCO}{b|2}',align:'center',verticalAlign:'middle',rich:{a:{fontFamily:NAR,fontSize:40,fontWeight:'bold',fill:'#444'},b:{fontFamily:NAR,fontSize:24,fontWeight:'bold',fill:'#444',padding:[14,0,0,0]}}}});
Box(2825,1663,66,42);T('2019',2864,1683,{fontSize:36,fill:'#444',sx:.82});
// axis lines
Ln(234,1866,3313,1866,'#333',5);Ln(3313,120,3313,1866,'#333',3);
// breaks
[2072,2379,2690,3010].forEach(x=>{Box(x-8,1860,16,12);Ln(x-10,1890,x+2,1843,'#222',3);Ln(x-1,1890,x+11,1843,'#222',3);});
// axis titles
T('Różnica temperatury wzgl. okresu 1961-1990 [°C]',45,671,{rot:Math.PI/2,fontFamily:DJV,fontSize:50,fill:'#222',sy:.85});
T('Stężenie CO₂ [ppm]',45,1696,{rot:Math.PI/2,fontFamily:DJV,fontSize:55,fill:'#222',sy:.78});
T('Kolor tła na podst. różnicy temperatury',3572,792,{rot:Math.PI/2,fontFamily:DJV,fontSize:54,fill:'#222',sy:.85});
T('względem okresu 1961-1990 [°C]',3638,786,{rot:Math.PI/2,fontFamily:DJV,fontSize:51,fill:'#222',sy:.85});
T('Miliony lat temu',1152,2078,{fontSize:58,sx:.85});T('Tysiące lat temu',2693,2078,{fontSize:58,sx:.85});T('Rok',3150,2078,{fontSize:58,sx:.85});
// legend frame
g.push({type:'rect',z:106,silent:true,shape:{x:3490,y:170,width:39,height:1246},style:{fill:'none',stroke:'#333',lineWidth:3}});
// logo
Box(257,1312,245,123,'#fff');
g.push({type:'sector',z:107,silent:true,shape:{cx:294,cy:1375,r:38,startAngle:Math.PI,endAngle:2*Math.PI},style:{fill:'#3F9DB8'}});
g.push({type:'sector',z:107,silent:true,shape:{cx:294,cy:1375,r:38,startAngle:0,endAngle:Math.PI},style:{fill:'#1B2F7E'}});
Ln(256,1375,332,1375,'#fff',3);Ln(294,1318,294,1432,'#1B2F7E',3);
T('IODP',427,1358,{fontSize:80,fill:'#1E3A8A',sx:.8,fontWeight:'normal'});
T('INTERNATIONAL OCEAN',425,1404,{fontSize:17,fontWeight:'bold',fill:'#5a6a8a',sx:.85});
T('DISCOVERY PROGRAM',420,1422,{fontSize:17,fontWeight:'bold',fill:'#5a6a8a',sx:.85});

const chart=echarts.init(document.getElementById('c'),null,{renderer:'canvas'});
chart.setOption({animation:false,backgroundColor:'#fff',grid:grids,xAxis:xAxes,yAxis:yAxes,series,graphic:{elements:g}});
</script></body></html>
